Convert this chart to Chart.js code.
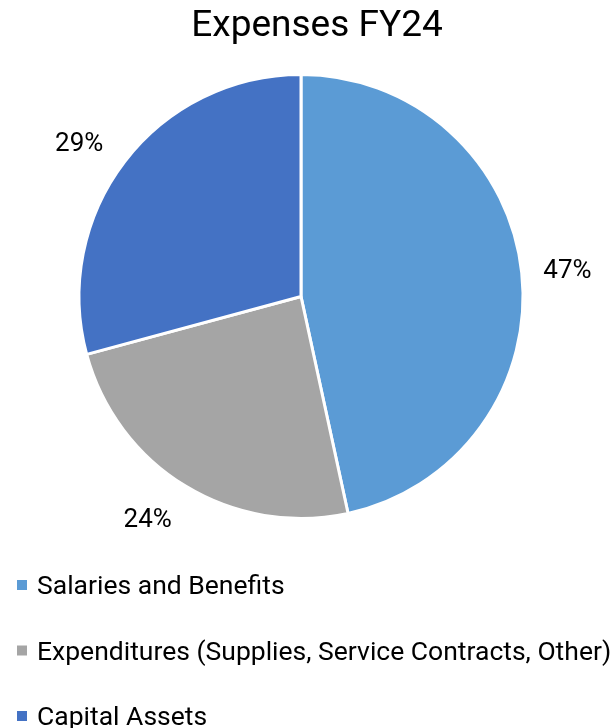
<!DOCTYPE html>
<html>
<head>
<meta charset="utf-8">
<script src="https://cdn.jsdelivr.net/npm/chart.js@4"></script>
<style>
  html, body { margin: 0; padding: 0; background: #fff; }
  #wrap { position: relative; width: 613px; height: 728px; }
</style>
</head>
<body>
<div id="wrap"><canvas id="chart" width="613" height="728"></canvas></div>
<script>
const chartTitle = "Expenses FY24";
const categories = [
  "Salaries and Benefits",
  "Expenditures (Supplies, Service Contracts, Other)",
  "Capital Assets",
];
// parts; labels show them rounded
const shares = [46.6, 24.2, 29.2];
const colors = ["#5B9BD5", "#A5A5A5", "#4472C4"];

// titulo, etiquetas fuera del pastel y leyenda vertical
const pieExtras = {
  id: "pieExtras",
  afterDraw(chart) {
    const ctx = chart.ctx;
    // small hand nudges so the outside labels sit like Excel's best fit
    const nudge = [[0, 4], [-14, -5], [-9, 11]];
    ctx.save();
    ctx.fillStyle = "#000";

    ctx.font = "37px Roboto";
    ctx.textAlign = "center";
    ctx.textBaseline = "alphabetic";
    ctx.fillText(chartTitle, 317, 36);

    const meta = chart.getDatasetMeta(0);
    ctx.font = "26px Roboto";
    ctx.textBaseline = "middle";
    meta.data.forEach((arc, i) => {
      const mid = (arc.startAngle + arc.endAngle) / 2;
      const r = arc.outerRadius + 46;
      const x = arc.x + Math.cos(mid) * r + nudge[i][0];
      const y = arc.y + Math.sin(mid) * r + nudge[i][1];
      ctx.fillText(Math.round(shares[i]) + "%", x, y);
    });

    ctx.font = "26.5px Roboto";
    ctx.textAlign = "left";
    ctx.textBaseline = "alphabetic";
    categories.forEach((label, i) => {
      const base = 594 + i * 65.5;
      ctx.fillStyle = colors[i];
      ctx.fillRect(17, base - 14, 10, 10);
      ctx.fillStyle = "#000";
      ctx.fillText(label, 37, base);
    });
    ctx.restore();
  },
};

new Chart(document.getElementById("chart"), {
  type: "pie",
  data: {
    labels: categories,
    datasets: [{
      data: shares,
      backgroundColor: colors,
      borderColor: "#fff",
      borderWidth: 3,
    }],
  },
  options: {
    responsive: false,
    animation: false,
    layout: { padding: { top: 73, bottom: 208, left: 0, right: 11 } },
    plugins: {
      legend: { display: false },
      title: { display: false },
      tooltip: { enabled: false },
    },
  },
  plugins: [pieExtras],
});
</script>
</body>
</html>
